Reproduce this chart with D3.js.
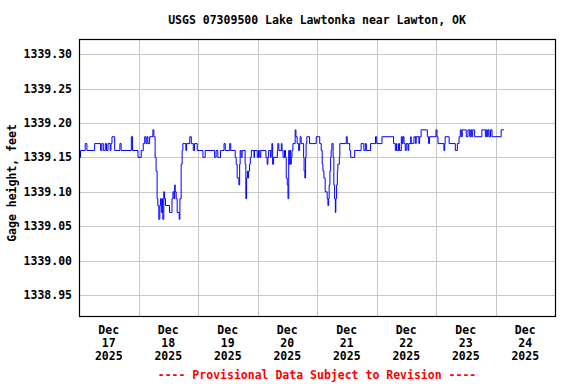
<!DOCTYPE html>
<html>
<head>
<meta charset="UTF-8">
<title>USGS 07309500</title>
<script src="https://cdn.jsdelivr.net/npm/d3@7"></script>
<style>
  body { margin: 0; background: #fff; }
  text { font-family: "DejaVu Sans Mono", "Liberation Mono", monospace; font-weight: bold; font-size: 11.5px; }
</style>
</head>
<body>
<svg id="chart"></svg>
<script>
// hours since Dec 17 2025 00:00, gage height (ft) from that time on (step data)
var hours = [0, 0.6, 2.5, 3.2, 6.3, 8.7, 9.2, 9.8, 10.6, 11.1, 11.7, 12.6, 12.9, 13.3, 14.4, 16.5, 17.0, 21.1, 21.6, 23.8,
  25.1, 25.9, 26.5, 27.0, 27.4, 27.8, 28.5, 29.8, 30.2, 30.7, 31.1, 31.5, 31.8, 32.2, 32.6, 32.9, 33.2, 33.6, 33.8, 34.2,
  34.5, 34.9, 36.5, 37.5, 37.9, 38.3, 38.6, 38.8, 39.2, 39.6, 40.4, 40.7, 41.2, 41.6, 41.9, 43.1, 43.4, 44.7, 45.3, 46.1,
  46.6, 47.7, 50.0, 50.9, 54.7, 55.3, 56.0, 57.1, 58.5, 59.0, 60.8, 61.2, 63.0, 63.4, 63.8, 64.5, 64.8, 65.0, 65.4, 65.8,
  67.0, 67.3, 67.6, 67.9, 68.1, 68.4, 68.8, 69.1, 69.5, 70.6, 70.8, 71.9, 72.4, 72.9, 73.3, 75.4, 75.9, 76.2, 76.5, 77.3,
  77.5, 77.8, 78.1, 78.5, 80.0, 80.2, 80.6, 81.6, 81.9, 82.3, 82.9, 83.3, 83.6, 84.0, 84.3, 84.6, 84.8, 85.1, 85.4, 85.6,
  85.9, 86.3, 87.2, 87.5, 88.0, 88.6, 89.0, 89.2, 89.6, 90.6, 90.8, 91.1, 91.4, 91.6, 91.9, 93.0, 95.7, 97.1, 97.7, 98.1,
  98.4, 98.8, 99.3, 100.1, 100.4, 100.7, 100.9, 101.2, 101.5, 101.7, 102.0, 102.5, 102.8, 103.1, 103.4, 103.6, 103.9, 104.2, 104.4, 105.0,
  105.2, 107.8, 108.2, 109.2, 109.6, 111.2, 113.8, 114.9, 115.5, 115.9, 117.6, 119.6, 120.1, 122.2, 126.9, 127.6, 128.0, 128.2, 128.9, 129.3,
  130.0, 130.4, 130.7, 131.1, 131.6, 132.0, 132.7, 133.0, 133.8, 134.0, 135.1, 135.8, 136.0, 137.1, 137.4, 138.0, 140.5, 141.0, 141.4, 144.0,
  144.4, 144.8, 147.2, 147.5, 147.7, 149.3, 151.8, 152.6, 153.3, 153.8, 154.2, 154.6, 156.2, 156.9, 157.6, 158.0, 158.4, 158.8, 159.6, 162.5,
  163.9, 164.3, 164.7, 165.0, 165.4, 166.0, 166.6, 170.3, 171.4];
var gage = [1339.15, 1339.16, 1339.17, 1339.16, 1339.17, 1339.16, 1339.17, 1339.16, 1339.17, 1339.16, 1339.17, 1339.16, 1339.17, 1339.18, 1339.16, 1339.17, 1339.16, 1339.18, 1339.16, 1339.15,
  1339.16, 1339.17, 1339.18, 1339.17, 1339.18, 1339.17, 1339.18, 1339.19, 1339.18, 1339.15, 1339.13, 1339.09, 1339.08, 1339.06, 1339.08, 1339.09, 1339.07, 1339.09, 1339.06, 1339.10,
  1339.09, 1339.08, 1339.07, 1339.09, 1339.10, 1339.09, 1339.11, 1339.10, 1339.09, 1339.07, 1339.06, 1339.09, 1339.14, 1339.16, 1339.17, 1339.16, 1339.17, 1339.18, 1339.17, 1339.16,
  1339.17, 1339.16, 1339.15, 1339.16, 1339.15, 1339.16, 1339.15, 1339.16, 1339.17, 1339.16, 1339.17, 1339.16, 1339.15, 1339.14, 1339.12, 1339.11, 1339.14, 1339.16, 1339.15, 1339.16,
  1339.14, 1339.09, 1339.12, 1339.13, 1339.12, 1339.13, 1339.14, 1339.15, 1339.16, 1339.15, 1339.16, 1339.15, 1339.16, 1339.15, 1339.16, 1339.15, 1339.14, 1339.15, 1339.16, 1339.15,
  1339.16, 1339.17, 1339.14, 1339.15, 1339.16, 1339.17, 1339.16, 1339.17, 1339.16, 1339.15, 1339.16, 1339.15, 1339.12, 1339.11, 1339.09, 1339.16, 1339.14, 1339.16, 1339.14, 1339.15,
  1339.16, 1339.17, 1339.19, 1339.18, 1339.17, 1339.16, 1339.17, 1339.18, 1339.17, 1339.15, 1339.13, 1339.12, 1339.15, 1339.17, 1339.18, 1339.17, 1339.18, 1339.17, 1339.16, 1339.14,
  1339.13, 1339.12, 1339.10, 1339.09, 1339.08, 1339.09, 1339.11, 1339.13, 1339.15, 1339.16, 1339.17, 1339.15, 1339.11, 1339.09, 1339.07, 1339.09, 1339.11, 1339.13, 1339.14, 1339.15,
  1339.17, 1339.18, 1339.17, 1339.16, 1339.15, 1339.16, 1339.17, 1339.16, 1339.17, 1339.16, 1339.17, 1339.18, 1339.17, 1339.18, 1339.17, 1339.16, 1339.17, 1339.16, 1339.17, 1339.16,
  1339.18, 1339.17, 1339.18, 1339.17, 1339.16, 1339.17, 1339.16, 1339.17, 1339.18, 1339.17, 1339.18, 1339.17, 1339.18, 1339.17, 1339.18, 1339.19, 1339.18, 1339.17, 1339.18, 1339.19,
  1339.18, 1339.17, 1339.16, 1339.17, 1339.18, 1339.17, 1339.16, 1339.17, 1339.18, 1339.19, 1339.18, 1339.19, 1339.18, 1339.19, 1339.18, 1339.19, 1339.18, 1339.19, 1339.18, 1339.19,
  1339.18, 1339.19, 1339.18, 1339.19, 1339.18, 1339.19, 1339.18, 1339.19, 1339.19];

var yTicks = [1338.95, 1339.00, 1339.05, 1339.10, 1339.15, 1339.20, 1339.25, 1339.30];
var dayLabels = ["17", "18", "19", "20", "21", "22", "23", "24"];

var title = "USGS 07309500 Lake Lawtonka near Lawton, OK";
var yTitle = "Gage height, feet";
var footer = "---- Provisional Data Subject to Revision ----";

var W = 576, H = 384;
var plotL = 79, plotR = 555, plotT = 39, plotB = 316;

var start = new Date(2025, 11, 17);
var data = hours.map(function (h, i) {
    return { date: new Date(start.getTime() + h * 3600000), value: gage[i] };
});

var svg = d3.select("#chart").attr("width", W).attr("height", H);

var x = d3.scaleTime()
    .domain([start, new Date(2025, 11, 25)])
    .range([plotL, plotR]);
var y = d3.scaleLinear()
    .domain([1338.9195, 1339.322])
    .range([plotB, plotT]);

// grid
svg.append("g")
    .attr("shape-rendering", "crispEdges")
    .selectAll("line")
    .data(yTicks)
    .enter().append("line")
    .attr("x1", plotL).attr("x2", plotR)
    .attr("y1", function (d) { return Math.round(y(d)) + 0.5 })
    .attr("y2", function (d) { return Math.round(y(d)) + 0.5 })
    .attr("stroke", "#c8c8c8");

var days = d3.timeDay.range(new Date(2025, 11, 18), new Date(2025, 11, 25));
svg.append("g")
    .attr("shape-rendering", "crispEdges")
    .selectAll("line")
    .data(days)
    .enter().append("line")
    .attr("y1", plotT).attr("y2", plotB)
    .attr("x1", function (d) { return Math.round(x(d)) + 0.5 })
    .attr("x2", function (d) { return Math.round(x(d)) + 0.5 })
    .attr("stroke", "#c8c8c8");

// series
var line = d3.line()
    .curve(d3.curveStepAfter)
    .x(function (d) { return x(d.date) })
    .y(function (d) { return y(d.value) });

svg.append("path")
    .datum(data)
    .attr("fill", "none")
    .attr("stroke", "#0000ff")
    .attr("stroke-width", 1)
    .attr("d", line);

// frame
svg.append("rect")
    .attr("x", plotL + 0.5).attr("y", plotT + 0.5)
    .attr("width", plotR - plotL).attr("height", plotB - plotT)
    .attr("fill", "none")
    .attr("stroke", "#000")
    .attr("stroke-width", 1.2);

// y tick labels
svg.append("g")
    .selectAll("text")
    .data(yTicks)
    .enter().append("text")
    .attr("x", 72)
    .attr("y", function (d) { return y(d) + 4 })
    .attr("text-anchor", "end")
    .text(function (d) { return d3.format(".2f")(d) });

// x labels at noon of each day
var noons = dayLabels.map(function (d, i) { return new Date(2025, 11, 17 + i, 12) });
var xl = svg.append("g")
    .selectAll("text")
    .data(noons)
    .enter().append("text")
    .attr("text-anchor", "middle")
    .attr("x", function (d) { return x(d) });
xl.append("tspan").attr("y", 334).text("Dec");
xl.append("tspan").attr("y", 347).attr("x", function (d) { return x(d) })
    .text(function (d, i) { return dayLabels[i] });
xl.append("tspan").attr("y", 360).attr("x", function (d) { return x(d) }).text("2025");

svg.append("text")
    .attr("x", (plotL + plotR) / 2).attr("y", 24)
    .attr("text-anchor", "middle")
    .text(title);

svg.append("text")
    .attr("transform", "translate(16,183) rotate(-90)")
    .attr("text-anchor", "middle")
    .text(yTitle);

svg.append("text")
    .attr("x", (plotL + plotR) / 2).attr("y", 379)
    .attr("text-anchor", "middle")
    .attr("fill", "#ff0000")
    .text(footer);
</script>
</body>
</html>
